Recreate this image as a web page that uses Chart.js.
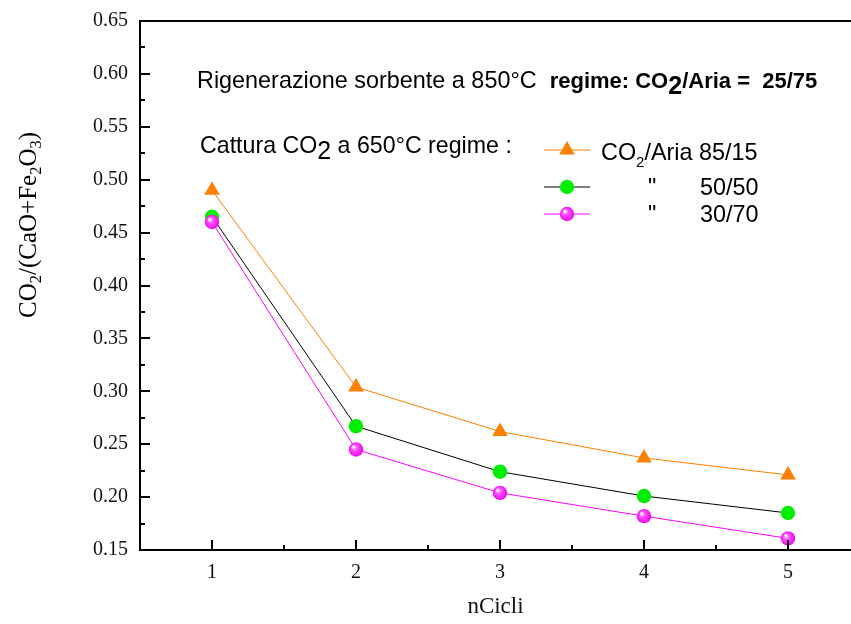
<!DOCTYPE html>
<html>
<head>
<meta charset="utf-8">
<script src="https://cdn.jsdelivr.net/npm/chart.js@4/dist/chart.umd.min.js"></script>
<style>
  html, body { margin: 0; padding: 0; background: #fff; overflow: hidden; }
  #chart { display: block; }
</style>
</head>
<body>
<canvas id="chart" width="851" height="624"></canvas>
<script>
// data
const cycles = [1, 2, 3, 4, 5];
const aria8515 = [0.490, 0.304, 0.262, 0.237, 0.221];
const aria5050 = [0.465, 0.267, 0.224, 0.201, 0.185];
const aria3070 = [0.460, 0.245, 0.204, 0.182, 0.161];
const xTicks = [0.5, 1, 1.5, 2, 2.5, 3, 3.5, 4, 4.5, 5];
const yTicks = [0.15, 0.175, 0.2, 0.225, 0.25, 0.275, 0.3, 0.325, 0.35, 0.375, 0.4,
                0.425, 0.45, 0.475, 0.5, 0.525, 0.55, 0.575, 0.6, 0.625, 0.65];
const yMin = 0.15, yMax = 0.65;

const ORANGE = '#ff7f00';
const GREEN = '#00ee00';
const MAGENTA = '#ff00ff';
const SANS = '"Liberation Sans", Arial, sans-serif';
const SERIF = '"Liberation Serif", "Times New Roman", serif';

function pts(vals) {
    return cycles.map((c, i) => ({ x: c, y: vals[i] }));
}

function sphere(ctx, x, y, r) {
    const g = ctx.createRadialGradient(x - r * 0.3, y - r * 0.35, 0.5, x, y, r);
    g.addColorStop(0, '#ffffff');
    g.addColorStop(0.3, '#ff55ff');
    g.addColorStop(1, '#e600e6');
    return g;
}

function sphereColor(c) {
    if (c.type !== 'data' || !c.chart.scales.x || !c.raw) return MAGENTA;
    const px = c.chart.scales.x.getPixelForValue(c.raw.x);
    const py = c.chart.scales.y.getPixelForValue(c.raw.y);
    if (!isFinite(px) || !isFinite(py)) return MAGENTA;
    return sphere(c.chart.ctx, px, py, 8);
}

function isMult(v, step) {
    return Math.abs(Math.round(v / step) * step - v) < 1e-6;
}

function drawRuns(ctx, x, y, runs) {
    ctx.textBaseline = 'alphabetic';
    ctx.textAlign = 'left';
    runs.forEach(r => {
        ctx.font = r.font;
        ctx.fillText(r.t, x, y + (r.dy || 0));
        x += ctx.measureText(r.t).width;
    });
}

// inward tick marks, top frame line, notes and legend
const decorations = {
    id: 'decorations',
    afterDraw(chart) {
        const ctx = chart.ctx;
        const xs = chart.scales.x, ys = chart.scales.y;
        const a = chart.chartArea;
        ctx.save();
        ctx.strokeStyle = '#000';
        ctx.lineWidth = 2;
        // top frame
        ctx.beginPath();
        ctx.moveTo(a.left - 1, a.top);
        ctx.lineTo(a.right, a.top);
        ctx.stroke();
        // x ticks
        xs.ticks.forEach(t => {
            const v = t.value;
            if (v <= xs.min + 1e-6) return;
            const len = isMult(v, 1) ? 10 : 5;
            const px = Math.round(xs.getPixelForValue(v));
            ctx.beginPath();
            ctx.moveTo(px, a.bottom);
            ctx.lineTo(px, a.bottom - len);
            ctx.stroke();
        });
        // y ticks
        ys.ticks.forEach(t => {
            const v = t.value;
            if (v <= ys.min + 1e-6 || v >= ys.max - 1e-6) return;
            const len = isMult(v, 0.05) ? 10 : 5;
            const py = Math.round(ys.getPixelForValue(v));
            ctx.beginPath();
            ctx.moveTo(a.left, py);
            ctx.lineTo(a.left + len, py);
            ctx.stroke();
        });

        // y axis title with subscripts
        ctx.save();
        ctx.translate(36, 318);
        ctx.rotate(-Math.PI / 2);
        ctx.fillStyle = '#000';
        const f = '25px ' + SERIF, fs = '16.5px ' + SERIF;
        drawRuns(ctx, 0, 0, [
            { t: 'CO', font: f }, { t: '2', font: fs, dy: 5 },
            { t: '/(CaO+Fe', font: f }, { t: '2', font: fs, dy: 5 },
            { t: 'O', font: f }, { t: '3', font: fs, dy: 5 }, { t: ')', font: f }
        ]);
        ctx.restore();

        // notes
        ctx.fillStyle = '#000';
        drawRuns(ctx, 197, 88, [
            { t: 'Rigenerazione sorbente a 850°C  ', font: '23.4px ' + SANS },
            { t: 'regime: CO', font: 'bold 22px ' + SANS },
            { t: '2', font: 'bold 25px ' + SANS, dy: 6 },
            { t: '/Aria =  25/75', font: 'bold 22px ' + SANS }
        ]);
        drawRuns(ctx, 200, 153, [
            { t: 'Cattura CO', font: '23.2px ' + SANS },
            { t: '2', font: '25px ' + SANS, dy: 6 },
            { t: ' a 650°C regime :', font: '23.2px ' + SANS }
        ]);

        // legend
        const rows = [
            { ds: 0, y: 150 },
            { ds: 1, y: 187 },
            { ds: 2, y: 214 }
        ];
        rows.forEach(r => {
            const d = chart.data.datasets[r.ds];
            ctx.strokeStyle = d.borderColor;
            ctx.lineWidth = 1;
            ctx.beginPath();
            ctx.moveTo(544, r.y);
            ctx.lineTo(590, r.y);
            ctx.stroke();
            ctx.fillStyle = r.ds === 2 ? sphere(ctx, 567, r.y, 8) : d.pointBackgroundColor;
            ctx.strokeStyle = 'rgba(0,0,0,0)';
            Chart.helpers.drawPoint(ctx, {
                pointStyle: d.pointStyle, radius: d.pointRadius, rotation: 0, borderWidth: 0
            }, 567, r.y);
        });
        ctx.fillStyle = '#000';
        const lf = '23.4px ' + SANS;
        drawRuns(ctx, 601, 160, [
            { t: 'CO', font: lf },
            { t: '2', font: '15px ' + SANS, dy: 7 },
            { t: '/Aria 85/15', font: lf }
        ]);
        drawRuns(ctx, 648, 195, [{ t: '"', font: lf }]);
        drawRuns(ctx, 700, 195, [{ t: '50/50', font: lf }]);
        drawRuns(ctx, 648, 222, [{ t: '"', font: lf }]);
        drawRuns(ctx, 700, 222, [{ t: '30/70', font: lf }]);
        ctx.restore();
    }
};

new Chart(document.getElementById('chart'), {
    type: 'line',
    data: {
        datasets: [{
            label: 'CO2/Aria 85/15',
            data: pts(aria8515),
            borderColor: ORANGE,
            borderWidth: 1,
            pointStyle: 'triangle',
            pointRadius: 9,
            pointBackgroundColor: ORANGE,
            pointBorderWidth: 0,
            order: 3
        }, {
            label: '50/50',
            data: pts(aria5050),
            borderColor: '#000000',
            borderWidth: 1,
            pointStyle: 'circle',
            pointRadius: 7.2,
            pointBackgroundColor: GREEN,
            pointBorderWidth: 0,
            order: 2
        }, {
            label: '30/70',
            data: pts(aria3070),
            borderColor: MAGENTA,
            borderWidth: 1,
            pointStyle: 'circle',
            pointRadius: 7.2,
            pointBackgroundColor: sphereColor,
            pointBorderWidth: 0,
            order: 1
        }]
    },
    options: {
        responsive: false,
        animation: false,
        layout: { autoPadding: false, padding: { top: 21, left: 0, right: 0, bottom: 0 } },
        plugins: {
            legend: { display: false },
            tooltip: { enabled: false }
        },
        elements: {
            line: { tension: 0 }
        },
        scales: {
            x: {
                type: 'linear',
                min: 0.5,
                max: 5.4375,
                border: { display: true, color: '#000', width: 2 },
                grid: { display: false, drawTicks: false },
                afterBuildTicks: s => { s.ticks = xTicks.map(v => ({ value: v })); },
                ticks: {
                    autoSkip: false,
                    maxRotation: 0,
                    padding: 11,
                    color: '#111',
                    font: { family: SERIF, size: 20 },
                    callback: v => (isMult(v, 1) ? String(Math.round(v)) : '')
                },
                title: {
                    display: true,
                    text: 'nCicli',
                    color: '#111',
                    font: { family: SERIF, size: 23 },
                    padding: { top: 0, bottom: 3 }
                },
                afterFit: s => { s.height = 74; s.paddingLeft = 0; s.paddingRight = 0; }
            },
            y: {
                min: yMin,
                max: yMax,
                border: { display: true, color: '#000', width: 2 },
                grid: { display: false, drawTicks: false },
                afterBuildTicks: s => { s.ticks = yTicks.map(v => ({ value: v })); },
                ticks: {
                    autoSkip: false,
                    padding: 12,
                    color: '#111',
                    font: { family: SERIF, size: 20 },
                    callback: v => (isMult(v, 0.05) ? v.toFixed(2) : '')
                },
                afterFit: s => { s.width = 140; s.paddingTop = 0; s.paddingBottom = 0; }
            }
        }
    },
    plugins: [decorations]
});
</script>
</body>
</html>
